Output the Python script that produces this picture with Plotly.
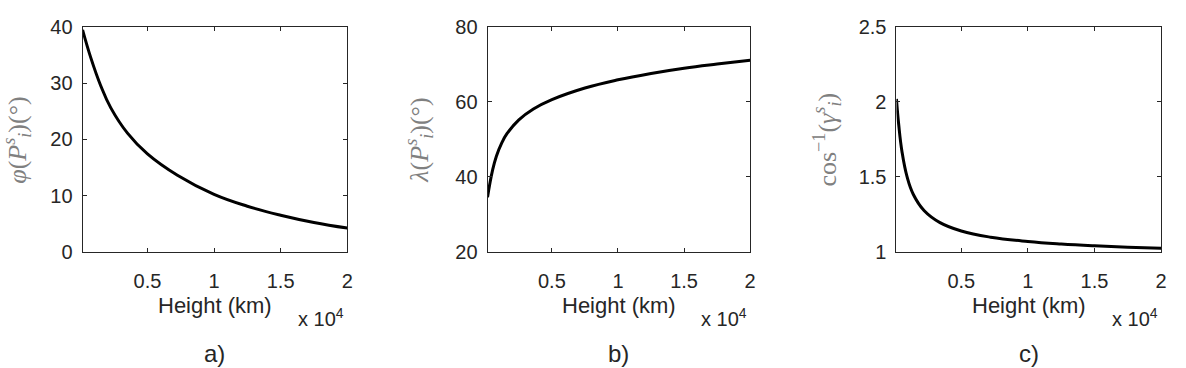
import plotly.graph_objects as go

# Height (km) samples and values
h_a = [130, 750, 1500, 2250, 3500, 5000, 7250, 10000, 12500, 15000, 17500, 20000]
phi = [39.5, 34.5, 29.5, 25.6, 21.1, 17.4, 13.6, 10.2, 8.1, 6.5, 5.2, 4.2]

h_b = [130, 300, 500, 800, 1200, 1600, 2500, 3600, 5000, 7500, 10000, 12500, 15000, 17500, 20000]
lam = [34.5, 38.1, 41.6, 45.5, 49.0, 51.5, 55.2, 58.1, 60.6, 63.7, 65.9, 67.6, 69.0, 70.1, 71.1]

h_c = [130, 300, 550, 930, 1400, 2200, 3400, 5000, 7200, 10000, 12500, 15000, 17500, 20000]
acos_g = [2.02, 1.849, 1.666, 1.499, 1.382, 1.275, 1.194, 1.138, 1.097, 1.068, 1.051, 1.039, 1.030, 1.023]

x_tickvals = [5000, 10000, 15000, 20000]
x_ticktext = ["0.5", "1", "1.5", "2"]
ya_ticks = [0, 10, 20, 30, 40]
yb_ticks = [20, 40, 60, 80]
yc_ticks = [1, 1.5, 2, 2.5]
yc_text = ["1", "1.5", "2", "2.5"]

W, H = 1186, 368
panels = [
    dict(x0=83, x1=349, yr=[0, 40], yt=ya_ticks, ytt=[str(v) for v in ya_ticks],
         x=h_a, y=phi, ylab="<i>φ</i>(<i>P</i><sup><i>s</i></sup><sub><i>i</i></sub>)(°)", lx=17, tag="a)"),
    dict(x0=490, x1=754, yr=[20, 80], yt=yb_ticks, ytt=[str(v) for v in yb_ticks],
         x=h_b, y=lam, ylab="<i>λ</i>(<i>P</i><sup><i>s</i></sup><sub><i>i</i></sub>)(°)", lx=421, tag="b)"),
    dict(x0=901, x1=1167, yr=[1, 2.5], yt=yc_ticks, ytt=yc_text,
         x=h_c, y=acos_g, ylab="cos<sup>−1</sup>(<i>γ</i><sup><i>s</i></sup><sub><i>i</i></sub>)", lx=831, tag="c)"),
]

SANS = "Liberation Sans, Arial, sans-serif"
top_px, bot_px = 17, 256
fig = go.Figure()
ann = []
tickfont = dict(family=SANS, size=20, color="#262626")
for i, p in enumerate(panels):
    n = "" if i == 0 else str(i + 1)
    fig.add_trace(go.Scatter(x=p["x"], y=p["y"], mode="lines",
                             line=dict(color="black", width=3, shape="spline", smoothing=1.2),
                             xaxis="x" + n, yaxis="y" + n, showlegend=False))
    dom_x = [p["x0"] / W, p["x1"] / W]
    dom_y = [1 - bot_px / H, 1 - top_px / H]
    fig.layout["xaxis" + n] = dict(domain=dom_x, range=[130, 20000], tickvals=x_tickvals, ticktext=x_ticktext,
                                   ticks="inside", ticklen=4, tickcolor="#262626", showline=True, linecolor="#262626",
                                   linewidth=1, mirror="ticks", showgrid=False, zeroline=False, tickfont=tickfont,
                                   anchor="y" + n, ticklabelstandoff=11)
    fig.layout["yaxis" + n] = dict(domain=dom_y, range=p["yr"], tickvals=p["yt"], ticktext=p["ytt"],
                                   ticks="inside", ticklen=4, tickcolor="#262626", showline=True, linecolor="#262626",
                                   linewidth=1, mirror="ticks", showgrid=False, zeroline=False, tickfont=tickfont,
                                   anchor="x" + n, ticklabelstandoff=5)
    cx = (p["x0"] + p["x1"]) / 2 / W
    ann.append(dict(text="Height (km)", x=cx, y=1 - 313 / H, xref="paper", yref="paper", showarrow=False,
                    font=dict(family=SANS, size=22, color="#262626"),
                    xanchor="center", yanchor="middle"))
    ann.append(dict(text="x 10<sup>4</sup>", x=(p["x1"] - 1) / W, y=1 - 326 / H, xref="paper", yref="paper",
                    showarrow=False, font=dict(family=SANS, size=20, color="#262626"),
                    xanchor="right", yanchor="middle"))
    ann.append(dict(text=p["tag"], x=cx, y=1 - 364 / H, xref="paper", yref="paper", showarrow=False,
                    font=dict(family=SANS, size=24, color="#262626"),
                    xanchor="center", yanchor="middle"))
    ann.append(dict(text=p["ylab"], x=p["lx"] / W, y=1 - 137 / H, xref="paper", yref="paper", showarrow=False,
                    textangle=-90, font=dict(family="Liberation Serif, DejaVu Serif, serif", size=26, color="#808080"),
                    xanchor="center", yanchor="middle"))

fig.update_layout(width=W, height=H, margin=dict(l=0, r=0, t=0, b=0), plot_bgcolor="white",
                  paper_bgcolor="white", annotations=ann)
fig.write_html("out.html")
